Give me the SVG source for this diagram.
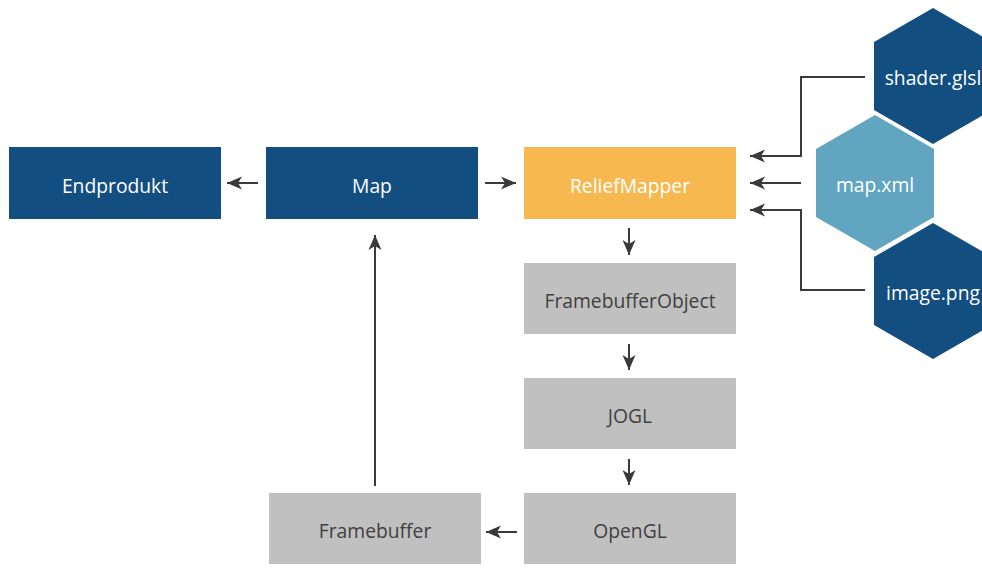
<svg xmlns="http://www.w3.org/2000/svg" width="982" height="579" viewBox="0 0 982 579">
<defs>
<marker id="ah" markerUnits="userSpaceOnUse" markerWidth="16" markerHeight="16" viewBox="0 0 16 16" refX="15" refY="8" orient="auto">
<path d="M0,1.5 L15,8 L0,14.5 L4,8 Z" fill="#3a3a3a"/>
</marker>
<style>
.dark{fill:#124e80}
.orange{fill:#f8b850}
.gray{fill:#c0c0c0}
.light{fill:#62a5c0}
.tw{fill:#ffffff;font-family:"Open Sans","Noto Sans",sans-serif;font-size:19.3px;text-anchor:middle;dominant-baseline:central}
.td{fill:#404040;font-family:"Open Sans","Noto Sans",sans-serif;font-size:19.3px;text-anchor:middle;dominant-baseline:central}
.c{fill:none;stroke:#3a3a3a;stroke-width:2;marker-end:url(#ah)}
</style>
</defs>
<g id="endprodukt"><rect class="dark" x="9" y="147" width="212" height="72"/><text class="tw" x="115" y="185">Endprodukt</text></g>
<g id="map"><rect class="dark" x="266" y="147" width="212" height="72"/><text class="tw" x="372" y="185">Map</text></g>
<g id="reliefmapper"><rect class="orange" x="524" y="147" width="212" height="72"/><text class="tw" x="630" y="185">ReliefMapper</text></g>
<g id="framebufferobject"><rect class="gray" x="524" y="263" width="212" height="71"/><text class="td" x="630" y="300">FramebufferObject</text></g>
<g id="jogl"><rect class="gray" x="524" y="378" width="212" height="71"/><text class="td" x="630" y="415">JOGL</text></g>
<g id="opengl"><rect class="gray" x="524" y="493" width="212" height="71"/><text class="td" x="630" y="530">OpenGL</text></g>
<g id="framebuffer"><rect class="gray" x="269" y="493" width="212" height="71"/><text class="td" x="375" y="530">Framebuffer</text></g>
<g id="shader"><polygon class="dark" points="933,8 992,42 992,110 933,144 874,110 874,42"/><text class="tw" x="933" y="77">shader.glsl</text></g>
<g id="mapxml"><polygon class="light" points="875,115 934,149 934,217 875,251 816,217 816,149"/><text class="tw" x="875" y="184">map.xml</text></g>
<g id="imagepng"><polygon class="dark" points="933,223 992,257 992,325 933,359 874,325 874,257"/><text class="tw" x="933" y="292">image.png</text></g>
<g id="connectors">
<line class="c" x1="258" y1="183" x2="227" y2="183"/>
<line class="c" x1="485" y1="183" x2="516" y2="183"/>
<line class="c" x1="629" y1="228" x2="629" y2="255"/>
<line class="c" x1="629" y1="344" x2="629" y2="370"/>
<line class="c" x1="629" y1="459" x2="629" y2="485"/>
<line class="c" x1="517" y1="532" x2="486" y2="532"/>
<line class="c" x1="375" y1="486" x2="375" y2="235"/>
<polyline class="c" points="865,77 801,77 801,156 750,156"/>
<line class="c" x1="801" y1="183" x2="750" y2="183"/>
<polyline class="c" points="865,290 801,290 801,210 750,210"/>
</g>
</svg>
